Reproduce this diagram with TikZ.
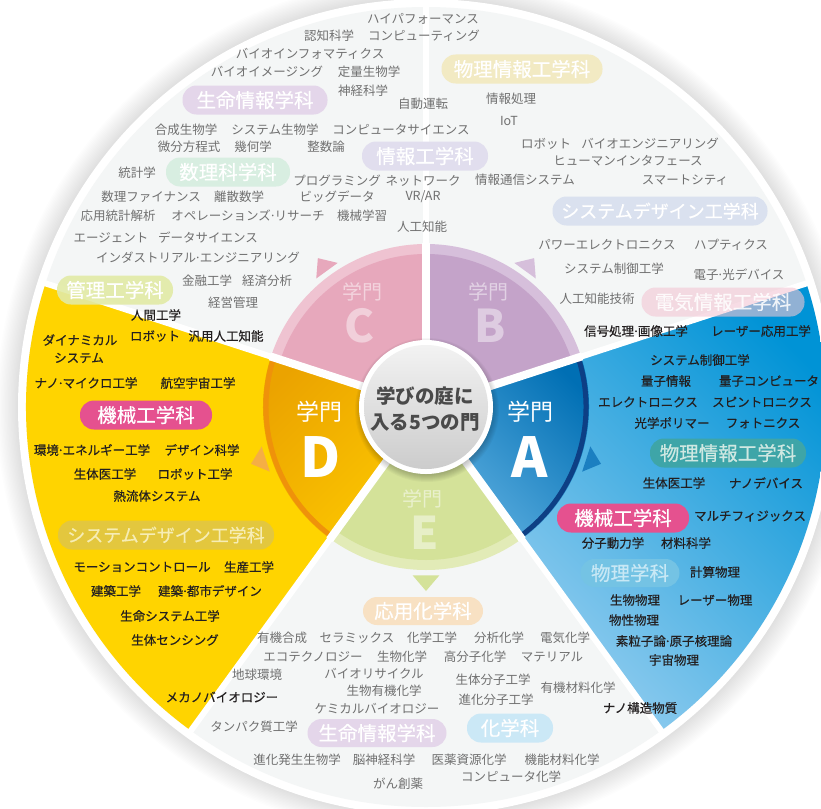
\documentclass[tikz,border=0pt]{standalone}
\usepackage{fontspec}
\setmainfont{Noto Sans CJK JP}
\newfontfamily\jpmed{Noto Sans CJK JP}[FakeBold=0.5]
\newcommand\nd{\hbox to 0.3em{\hss·\hss}}
\definecolor{bggrey}{HTML}{F4F6F6}
\definecolor{tgrey}{HTML}{707070}
\definecolor{tdark}{HTML}{231F20}
\definecolor{blueD}{HTML}{0093D6}
\definecolor{blueL}{HTML}{A2D3F2}
\definecolor{blueInD}{HTML}{006FB4}
\definecolor{blueInL}{HTML}{5EAFE0}
\definecolor{navyarc}{HTML}{0D3F85}
\definecolor{yel}{HTML}{FFD400}
\definecolor{yelInD}{HTML}{EBA300}
\definecolor{yelInL}{HTML}{FCC700}
\definecolor{orarc}{HTML}{EF920A}
\definecolor{purMain}{HTML}{C4A3C9}
\definecolor{purRing}{HTML}{D6BFDB}
\definecolor{pnkMain}{HTML}{E7A8BC}
\definecolor{pnkRing}{HTML}{EFC3D1}
\definecolor{grnMain}{HTML}{D4E299}
\definecolor{grnRing}{HTML}{E2EBB7}
\definecolor{triA}{HTML}{1B7FC1}
\definecolor{triD}{HTML}{F5AE45}
\definecolor{pPur}{HTML}{E4D6EA}
\definecolor{pYel}{HTML}{F2EAC3}
\definecolor{pLav}{HTML}{E1DEEE}
\definecolor{pGrn}{HTML}{D8EEE1}
\definecolor{pBlu}{HTML}{DAE1EF}
\definecolor{pLim}{HTML}{E2EAA6}
\definecolor{pPnk}{HTML}{F3C6D4}
\definecolor{pOra}{HTML}{F8E1C3}
\definecolor{pCya}{HTML}{CBE8F6}
\definecolor{mag}{HTML}{E5518F}
\definecolor{pYelD}{HTML}{E3C73E}
\definecolor{tYelD}{HTML}{F6EDB5}
\definecolor{pTeal}{HTML}{3EA5A8}
\definecolor{tTeal}{HTML}{CFE8E2}
\definecolor{pSky}{HTML}{74C3E4}
\definecolor{tSky}{HTML}{C8E8F5}
\definecolor{ctrtext}{HTML}{4A4A4A}
\begin{document}
\begin{tikzpicture}[x=1pt,y=1pt,
  g/.style={text=tgrey, font=\fontsize{12.5}{14}\selectfont, inner sep=0pt},
  d/.style={text=tdark, font=\jpmed\fontsize{12.5}{14}\selectfont, inner sep=0pt},
  pill/.style={rounded corners=14pt, minimum height=29pt, inner sep=0pt, text=white, font=\jpmed\fontsize{19.5}{20}\selectfont},
  gatebig/.style={text=white, font=\fontsize{23}{24}\selectfont, inner sep=0pt},
  gatesmall/.style={text=white, text opacity=0.5, font=\fontsize{20}{21}\selectfont, inner sep=0pt},
  letterbig/.style={text=white, font=\bfseries\fontsize{55}{56}\selectfont, inner sep=0pt},
  lettersmall/.style={text=white, text opacity=0.45, font=\bfseries\fontsize{45}{46}\selectfont, inner sep=0pt}]
\useasboundingbox (0,0) rectangle (821,-808);
\clip (0,0) rectangle (821,-808);
\fill[white] (0,0) rectangle (821,-808);
\begin{scope}[shift={(426,-407)}]
  % outer shadow and ring
  \foreach \i in {1,...,16} {\fill[black,opacity=0.007] (0,0) circle ({407+\i*1.4});}
  \fill[white] (0,0) circle (408);
  \fill[bggrey] (0,0) circle (400);
  % coloured outer sectors
  \shade[top color=blueD, bottom color=blueL, shading angle=-45] (0,0) -- (-54:400) arc[start angle=-54, end angle=18, radius=400] -- cycle;
  \fill[yel] (0,0) -- (162:400) arc[start angle=162, end angle=234, radius=400] -- cycle;
  % inner wedges
  \shade[top color=blueInD, bottom color=blueInL, shading angle=-45] (0,0) -- (-54:163) arc[start angle=-54, end angle=18, radius=163] -- cycle;
  \draw[navyarc, line width=5pt] (-54:160) arc[start angle=-54, end angle=18, radius=160];
  \shade[top color=yelInD, bottom color=yelInL, shading angle=45] (0,0) -- (162:163) arc[start angle=162, end angle=234, radius=163] -- cycle;
  \draw[orarc, line width=5pt] (162:160) arc[start angle=162, end angle=234, radius=160];
  \fill[purRing] (0,0) -- (18:163) arc[start angle=18, end angle=90, radius=163] -- cycle;
  \fill[purMain] (0,0) -- (18:153) arc[start angle=18, end angle=90, radius=153] -- cycle;
  \fill[pnkRing] (0,0) -- (90:163) arc[start angle=90, end angle=162, radius=163] -- cycle;
  \fill[pnkMain] (0,0) -- (90:153) arc[start angle=90, end angle=162, radius=153] -- cycle;
  \fill[grnRing] (0,0) -- (234:163) arc[start angle=234, end angle=306, radius=163] -- cycle;
  \fill[grnMain] (0,0) -- (234:153) arc[start angle=234, end angle=306, radius=153] -- cycle;
  % dividers
  \foreach \a in {18,90,162,234,306} {\draw[white, line width=6pt] (0,0) -- (\a:401);}
  \foreach \a in {18,90,162,234,306} {\draw[white, line width=8pt] (0,0) -- (\a:164);}
  % pointers
  \fill[triA] (-18:184) -- (-13.5:169) -- (-22.5:169) -- cycle;
  \fill[purRing] (54:184) -- (58.5:169) -- (49.5:169) -- cycle;
  \fill[pnkMain] (126:184) -- (130.5:169) -- (121.5:169) -- cycle;
  \fill[triD] (198:184) -- (202.5:169) -- (193.5:169) -- cycle;
  \fill[grnMain] (270:184) -- (274.5:169) -- (265.5:169) -- cycle;
  % centre disc
  \foreach \i in {1,...,8} {\fill[black,opacity=0.03] (1,-3) circle ({64+\i});}
  \fill[white] (0,0) circle (67);
  \shade[top color=white!95!black, bottom color=white!80!black] (0,0) circle (62);
\end{scope}
\node[text=ctrtext, font=\bfseries\fontsize{19.5}{26}\selectfont, align=center, inner sep=0pt] (ctr) at (425,-409) {学びの庭に\\入る5つの門};
% gate labels
\node[gatebig] (gA) at (530,-412) {学門};
\node[letterbig] (lA) at (530,-457) {A};
\node[gatebig] (gD) at (319,-412) {学門};
\node[letterbig] (lD) at (321,-457) {D};
\node[gatesmall] (gB) at (488,-292) {学門};
\node[lettersmall] (lB) at (490,-326) {B};
\node[gatesmall] (gC) at (362,-292) {学門};
\node[lettersmall] (lC) at (360,-326) {C};
\node[gatesmall] (gE) at (422,-499) {学門};
\node[lettersmall] (lE) at (425,-533) {E};
% pills
\node[pill, fill=pPur, minimum width=145pt] (p1) at (255,-100) {生命情報学科};
\node[pill, fill=pYel, minimum width=161pt] (p2) at (522,-69) {物理情報工学科};
\node[pill, fill=pLav, minimum width=126pt] (p3) at (425,-156) {情報工学科};
\node[pill, fill=pGrn, minimum width=124pt] (p4) at (228,-172) {数理科学科};
\node[pill, fill=pBlu, minimum width=215pt, font=\jpmed\fontsize{18}{19}\selectfont] (p5) at (660,-211) {システムデザイン工学科};
\node[pill, fill=pLim, fill opacity=0.9, text opacity=1, minimum width=116pt] (p6) at (115,-290) {管理工学科};
\node[pill, fill=pPnk, fill opacity=0.6, text opacity=0.85, minimum width=163pt] (p7) at (723,-302) {電気情報工学科};
\node[pill, fill=pOra, minimum width=120pt, minimum height=28pt] (p8) at (423,-611) {応用化学科};
\node[pill, fill=pPur, minimum width=139pt, minimum height=28pt] (p9) at (377,-733) {生命情報学科};
\node[pill, fill=pCya, minimum width=86pt] (p10) at (510,-728) {化学科};
\node[pill, fill=mag, minimum width=132pt] (p11) at (146,-415) {機械工学科};
\node[pill, fill=pYelD, text=tYelD, minimum width=216pt, font=\jpmed\fontsize{18}{19}\selectfont] (p12) at (166,-535) {システムデザイン工学科};
\node[pill, fill=pTeal, text=tTeal, minimum width=156pt] (p13) at (728,-453) {物理情報工学科};
\node[pill, fill=mag, minimum width=132pt] (p14) at (623,-518) {機械工学科};
\node[pill, fill=pSky, text=tSky, minimum width=99pt, minimum height=28pt] (p15) at (630,-573) {物理学科};
% grey words
\node[g] (g1) at (423,-19) {ハイパフォーマンス};
\node[g] (g2) at (329,-36) {認知科学};
\node[g] (g3) at (424,-36) {コンピューティング};
\node[g] (g4) at (310,-54) {バイオインフォマティクス};
\node[g] (g5) at (267,-72) {バイオイメージング};
\node[g] (g6) at (369,-72) {定量生物学};
\node[g] (g7) at (363,-91) {神経科学};
\node[g] (g8) at (423,-104) {自動運転};
\node[g] (g9) at (511,-99) {情報処理};
\node[g] (g10) at (509,-121) {IoT};
\node[g] (g11) at (186,-130) {合成生物学};
\node[g] (g12) at (275,-130) {システム生物学};
\node[g] (g13) at (401,-130) {コンピュータサイエンス};
\node[g] (g14) at (189,-147) {微分方程式};
\node[g] (g15) at (253,-147) {幾何学};
\node[g] (g16) at (326,-147) {整数論};
\node[g] (g17) at (546,-144) {ロボット};
\node[g] (g18) at (650,-144) {バイオエンジニアリング};
\node[g] (g19) at (628,-161) {ヒューマンインタフェース};
\node[g] (g20) at (137,-173) {統計学};
\node[g] (g21) at (337,-181) {プログラミング};
\node[g] (g22) at (423,-181) {ネットワーク};
\node[g] (g23) at (525,-180) {情報通信システム};
\node[g] (g24) at (685,-180) {スマートシティ};
\node[g] (g25) at (151,-197) {数理ファイナンス};
\node[g] (g26) at (239,-197) {離散数学};
\node[g] (g27) at (337,-197) {ビッグデータ};
\node[g] (g28) at (423,-197) {VR/AR};
\node[g] (g29) at (118,-216) {応用統計解析};
\node[g] (g30) at (248,-216) {オペレーションズ\nd リサーチ};
\node[g] (g31) at (362,-216) {機械学習};
\node[g] (g32) at (422,-227) {人工知能};
\node[g] (g33) at (111,-238) {エージェント};
\node[g] (g34) at (208,-238) {データサイエンス};
\node[g] (g35) at (198,-258) {インダストリアル\nd エンジニアリング};
\node[g] (g36) at (607,-245) {パワーエレクトロニクス};
\node[g] (g37) at (731,-245) {ハプティクス};
\node[g] (g38) at (614,-269) {システム制御工学};
\node[g] (g39) at (739,-275) {電子\nd 光デバイス};
\node[g] (g40) at (207,-281) {金融工学};
\node[g] (g41) at (267,-281) {経済分析};
\node[g] (g42) at (233,-303) {経営管理};
\node[g] (g43) at (597,-299) {人工知能技術};
\node[g] (g44) at (282,-638) {有機合成};
\node[g] (g45) at (357,-638) {セラミックス};
\node[g] (g46) at (432,-638) {化学工学};
\node[g] (g47) at (499,-638) {分析化学};
\node[g] (g48) at (565,-638) {電気化学};
\node[g] (g49) at (313,-657) {エコテクノロジー};
\node[g] (g50) at (402,-657) {生物化学};
\node[g] (g51) at (475,-657) {高分子化学};
\node[g] (g52) at (552,-657) {マテリアル};
\node[g] (g53) at (257,-675) {地球環境};
\node[g] (g54) at (374,-674) {バイオリサイクル};
\node[g] (g55) at (384,-691) {生物有機化学};
\node[g] (g56) at (493,-680) {生体分子工学};
\node[g] (g57) at (578,-688) {有機材料化学};
\node[g] (g58) at (496,-700) {進化分子工学};
\node[g] (g59) at (377,-709) {ケミカルバイオロジー};
\node[g] (g60) at (254,-727) {タンパク質工学};
\node[g] (g61) at (297,-760) {進化発生生物学};
\node[g] (g62) at (384,-760) {脳神経科学};
\node[g] (g63) at (469,-760) {医薬資源化学};
\node[g] (g64) at (562,-760) {機能材料化学};
\node[g] (g65) at (511,-777) {コンピュータ化学};
\node[g] (g66) at (398,-784) {がん創薬};
% dark words
\node[d] (d1) at (156,-315) {人間工学};
\node[d] (d2) at (80,-340) {ダイナミカル};
\node[d] (d3) at (79,-358) {システム};
\node[d] (d4) at (155,-336) {ロボット};
\node[d] (d5) at (226,-336) {汎用人工知能};
\node[d] (d6) at (86,-383) {ナノ\nd マイクロ工学};
\node[d] (d7) at (198,-383) {航空宇宙工学};
\node[d] (d8) at (92,-450) {環境\nd エネルギー工学};
\node[d] (d9) at (202,-450) {デザイン科学};
\node[d] (d10) at (105,-474) {生体医工学};
\node[d] (d11) at (195,-474) {ロボット工学};
\node[d] (d12) at (157,-496) {熱流体システム};
\node[d] (d13) at (142,-567) {モーションコントロール};
\node[d] (d14) at (249,-567) {生産工学};
\node[d] (d15) at (116,-591) {建築工学};
\node[d] (d16) at (210,-591) {建築\nd 都市デザイン};
\node[d] (d17) at (170,-616) {生命システム工学};
\node[d] (d18) at (175,-640) {生体センシング};
\node[d] (d19) at (222,-697) {メカノバイオロジー};
\node[d] (d20) at (636,-331) {信号処理\nd 画像工学};
\node[d] (d21) at (761,-331) {レーザー応用工学};
\node[d] (d22) at (700,-360) {システム制御工学};
\node[d] (d23) at (666,-381) {量子情報};
\node[d] (d24) at (769,-381) {量子コンピュータ};
\node[d] (d25) at (648,-402) {エレクトロニクス};
\node[d] (d26) at (762,-402) {スピントロニクス};
\node[d] (d27) at (672,-423) {光学ポリマー};
\node[d] (d28) at (763,-423) {フォトニクス};
\node[d] (d29) at (674,-483) {生体医工学};
\node[d] (d30) at (766,-483) {ナノデバイス};
\node[d] (d31) at (750,-516) {マルチフィジックス};
\node[d] (d32) at (613,-543) {分子動力学};
\node[d] (d33) at (686,-543) {材料科学};
\node[d] (d34) at (715,-572) {計算物理};
\node[d] (d35) at (635,-600) {生物物理};
\node[d] (d36) at (715,-600) {レーザー物理};
\node[d] (d37) at (634,-620) {物性物理};
\node[d] (d38) at (674,-641) {素粒子論\nd 原子核理論};
\node[d] (d39) at (674,-660) {宇宙物理};
\node[d] (d40) at (640,-708) {ナノ構造物質};
\end{tikzpicture}
\end{document}
